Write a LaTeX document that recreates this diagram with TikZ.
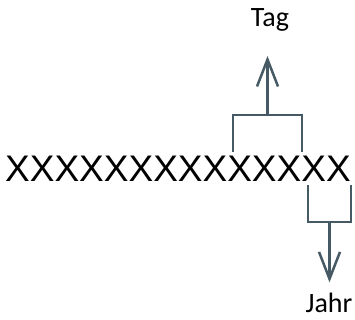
\documentclass[tikz,border=0pt]{standalone}
\usepackage{fontspec}
\setmainfont{Carlito}
\newfontfamily\xfont{Liberation Sans}
\usepackage{xcolor}
\usetikzlibrary{arrows.meta, positioning}
\definecolor{brkcol}{HTML}{455A64}

\begin{document}
\begin{tikzpicture}[
  x=1pt, y=-1pt,
  lbl/.style = {inner sep=0pt, anchor=base, font=\fontsize{28}{30}\selectfont},
  brk/.style = {draw=brkcol, line width=2.5pt},
  arr/.style = {-{Straight Barb[length=27pt, width=21pt]}, draw=brkcol, line width=2.5pt}
]
\useasboundingbox (0,0) rectangle (355,320);
\node[inner sep=0pt, anchor=base west, font=\xfont\fontsize{37}{40}\selectfont] (xrow) at (5,182) {XXXXXXXXXXXXXX};
\node[lbl] (tag) at (270,27) {Tag};
\node[lbl] (jahr) at (329,312) {Jahr};
\coordinate (tagL) at (233,152);
\coordinate (tagR) at (302,152);
\coordinate (tagJ) at (267.5,115);
\coordinate (jahrL) at (308,185);
\coordinate (jahrR) at (351,185);
\coordinate (jahrJ) at (329.5,222);
\draw[brk] (tagL) |- (tagJ) -| (tagR);
\draw[brk] (jahrL) |- (jahrJ) -| (jahrR);
\draw[arr, shorten >=24pt] (tagJ) -- (tagJ |- tag.south);
\draw[arr, shorten >=10pt] (jahrJ) -- (jahrJ |- jahr.north);
\end{tikzpicture}
\end{document}
